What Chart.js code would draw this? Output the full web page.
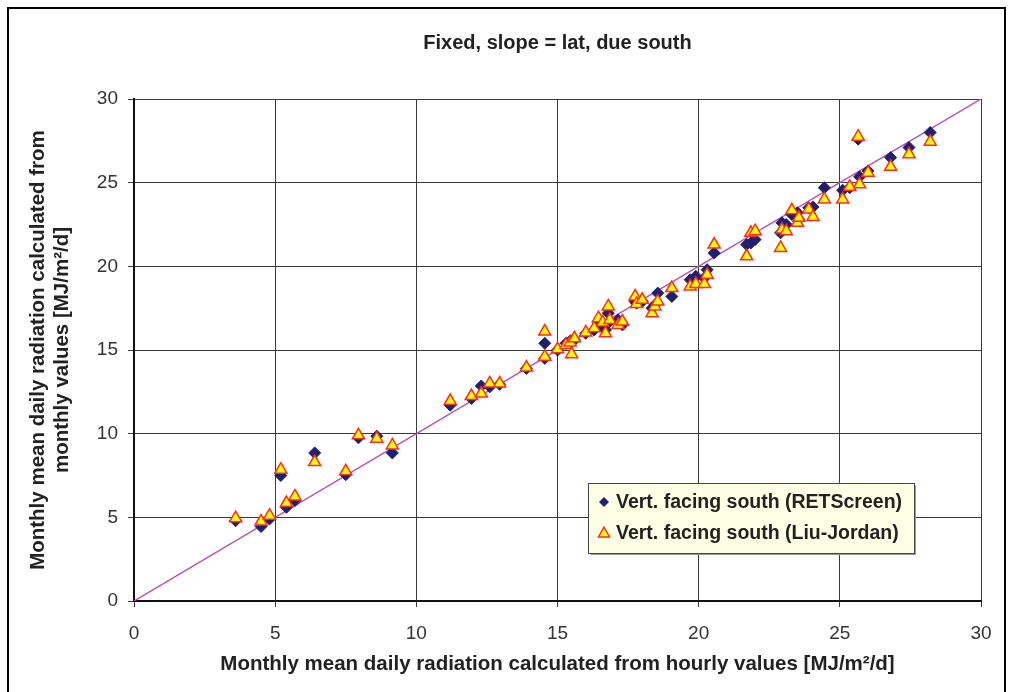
<!DOCTYPE html>
<html>
<head>
<meta charset="utf-8">
<script src="https://cdn.jsdelivr.net/npm/chart.js@4/dist/chart.umd.min.js"></script>
<style>
html, body { margin: 0; padding: 0; background: #fff; overflow: hidden; }
#wrap { position: relative; width: 1013px; height: 692px; }
#frame { position: absolute; left: 7px; top: 7px; width: 999px; height: 720px; border: 2px solid #000; box-sizing: border-box; pointer-events: none; }
</style>
</head>
<body>
<div id="wrap">
<canvas id="chart" width="1013" height="692"></canvas>
<div id="frame"></div>
</div>
<script>
// monthly mean daily radiation from hourly values (x)
var hourlyX = [3.6, 4.5, 4.8, 5.2, 5.4, 5.7, 6.4, 7.5, 7.95, 8.6, 9.15,
	11.2, 11.95, 12.3, 12.6, 12.95, 13.9, 14.55, 14.55, 15.0, 15.3, 15.45, 15.5, 15.6,
	16.0, 16.3, 16.45, 16.6, 16.7, 16.8, 16.85, 17.15, 17.3, 17.75, 17.8, 18.0,
	18.35, 18.45, 18.55, 19.05, 19.7, 19.9, 20.2, 20.3, 20.55, 21.7, 21.85, 22.0,
	22.9, 22.95, 23.1, 23.3, 23.5, 23.55, 23.9, 24.05, 24.45, 25.1, 25.35, 25.65,
	25.7, 26.0, 26.8, 27.45, 28.2];
// RETScreen (monthly values)
var retscreenY = [4.8, 4.45, 4.9, 7.5, 5.6, 6.0, 8.85, 7.55, 9.75, 9.85, 8.85,
	11.7, 12.1, 12.85, 12.8, 12.95, 13.9, 15.4, 14.5, 15.0, 15.4, 15.55, 15.5, 15.6,
	16.0, 16.2, 16.6, 16.5, 16.2, 17.2, 16.7, 16.8, 16.5, 17.9, 17.8, 17.9,
	17.5, 17.7, 18.4, 18.2, 19.2, 19.4, 19.3, 19.8, 20.8, 21.3, 21.4, 21.6,
	22.0, 22.6, 22.5, 23.1, 23.2, 22.8, 23.5, 23.55, 24.7, 24.55, 24.7, 27.6,
	25.35, 25.7, 26.5, 27.1, 28.0];
// Liu-Jordan (monthly values)
var liuJordanY = [4.95, 4.75, 5.1, 7.85, 5.85, 6.25, 8.3, 7.75, 9.9, 9.7, 9.3,
	11.95, 12.25, 12.4, 13.0, 13.0, 13.95, 16.1, 14.6, 15.05, 15.3, 15.45, 14.75, 15.7,
	16.05, 16.3, 16.9, 16.65, 16.0, 17.6, 16.8, 16.5, 16.7, 18.2, 17.75, 18.0,
	17.2, 17.6, 17.9, 18.7, 18.8, 18.95, 18.95, 19.5, 21.3, 20.6, 22.0, 22.1,
	21.1, 22.2, 22.1, 23.35, 22.6, 22.9, 23.4, 22.95, 24.0, 24.0, 24.75, 27.75,
	24.9, 25.6, 25.95, 26.7, 27.45];
// 1:1 reference line
var lineX = [0, 30];
var lineY = [0, 30];
var axisMin = 0, axisMax = 30, axisStep = 5;

var seriesLabels = ['Vert. facing south (RETScreen)', 'Vert. facing south (Liu-Jordan)'];

var toPoints = function(xs, ys) {
	return xs.map(function(x, i) { return { x: x, y: ys[i] }; });
};

var fontFamily = '"Liberation Sans", Arial, Helvetica, sans-serif';
var gridColour = '#3a3a3a';

// centre the title over the plot area like the original
var centreTitle = {
	id: 'centreTitle',
	afterLayout: function(chart) {
		if (chart.titleBlock) {
			chart.titleBlock.left = chart.chartArea.left;
			chart.titleBlock.right = chart.chartArea.right;
		}
	}
};

var legendBox = {
	id: 'legendBox',
	afterDatasetsDraw: function(chart) {
		var ctx = chart.ctx;
		var bx = 588.5, by = 483.5, bw = 326, bh = 70;
		ctx.save();
		// slight shadow
		ctx.strokeStyle = '#999';
		ctx.lineWidth = 1;
		ctx.beginPath();
		ctx.moveTo(bx + 2, by + bh + 1);
		ctx.lineTo(bx + bw + 1, by + bh + 1);
		ctx.lineTo(bx + bw + 1, by + 2);
		ctx.stroke();
		ctx.fillStyle = '#FFFFE6';
		ctx.fillRect(bx, by, bw, bh);
		ctx.strokeStyle = '#444';
		ctx.strokeRect(bx, by, bw, bh);

		// diamond
		var mx = 604, y1 = 502, y2 = 533;
		ctx.fillStyle = '#1F2070';
		ctx.beginPath();
		ctx.moveTo(mx, y1 - 5);
		ctx.lineTo(mx + 5, y1);
		ctx.lineTo(mx, y1 + 5);
		ctx.lineTo(mx - 5, y1);
		ctx.closePath();
		ctx.fill();
		// triangle
		ctx.fillStyle = '#FFFF00';
		ctx.strokeStyle = '#FF2A1A';
		ctx.lineWidth = 1.5;
		ctx.beginPath();
		ctx.moveTo(mx, y2 - 6);
		ctx.lineTo(mx + 5.5, y2 + 4);
		ctx.lineTo(mx - 5.5, y2 + 4);
		ctx.closePath();
		ctx.fill();
		ctx.stroke();

		ctx.fillStyle = '#222';
		ctx.font = 'bold 19.5px ' + fontFamily;
		ctx.textBaseline = 'middle';
		ctx.textAlign = 'left';
		ctx.fillText(seriesLabels[0], 616, y1 + 1);
		ctx.fillText(seriesLabels[1], 616, y2 + 1);
		ctx.restore();
	}
};

var config = {
	type: 'scatter',
	data: {
		datasets: [
			{
				label: seriesLabels[1],
				data: toPoints(hourlyX, liuJordanY),
				pointStyle: 'triangle',
				pointRadius: 7,
				pointHoverRadius: 7,
				backgroundColor: '#FFFF00',
				borderColor: '#FF2A1A',
				borderWidth: 1.5
			},
			{
				label: seriesLabels[0],
				data: toPoints(hourlyX, retscreenY),
				pointStyle: 'rectRot',
				pointRadius: 6,
				pointHoverRadius: 6,
				backgroundColor: '#1F2070',
				borderColor: '#1F2070',
				borderWidth: 1
			},
			{
				label: '1:1',
				data: toPoints(lineX, lineY),
				showLine: true,
				pointRadius: 0,
				borderColor: '#B550B5',
				borderWidth: 1.5,
				fill: false
			}
		]
	},
	options: {
		responsive: false,
		animation: false,
		devicePixelRatio: 1,
		layout: { padding: { left: 0, right: 32, top: 0, bottom: 0 } },
		plugins: {
			legend: { display: false },
			tooltip: { enabled: false },
			title: {
				display: true,
				text: 'Fixed, slope = lat, due south',
				color: '#222',
				font: { family: fontFamily, size: 20, weight: 'bold' },
				padding: { top: 31, bottom: 44 }
			}
		},
		scales: {
			x: {
				type: 'linear',
				min: axisMin,
				max: axisMax,
				afterFit: function(scale) { scale.height = 91; },
				ticks: {
					stepSize: axisStep,
					color: '#333',
					padding: 15,
					maxRotation: 0,
					font: { family: fontFamily, size: 19 }
				},
				grid: { color: gridColour, lineWidth: 1, tickLength: 6, tickColor: gridColour },
				border: { color: '#111', width: 2 },
				title: {
					display: true,
					text: 'Monthly mean daily radiation calculated from hourly values [MJ/m\u00b2/d]',
					color: '#222',
					font: { family: fontFamily, size: 20.5, weight: 'bold' },
					padding: { top: 0, bottom: 15 }
				}
			},
			y: {
				type: 'linear',
				min: axisMin,
				max: axisMax,
				afterFit: function(scale) { scale.width = 134; },
				ticks: {
					stepSize: axisStep,
					color: '#333',
					padding: 10,
					font: { family: fontFamily, size: 19 }
				},
				grid: { color: gridColour, lineWidth: 1, tickLength: 6, tickColor: gridColour },
				border: { color: '#111', width: 2 },
				title: {
					display: true,
					text: ['Monthly mean daily radiation calculated from', 'monthly values [MJ/m\u00b2/d]'],
					color: '#222',
					font: { family: fontFamily, size: 20.5, weight: 'bold', lineHeight: 1.17 },
					padding: { top: 26, bottom: 0 }
				}
			}
		}
	},
	plugins: [centreTitle, legendBox]
};

var ctx = document.getElementById('chart').getContext('2d');
window.myScatter = new Chart(ctx, config);
</script>
</body>
</html>
